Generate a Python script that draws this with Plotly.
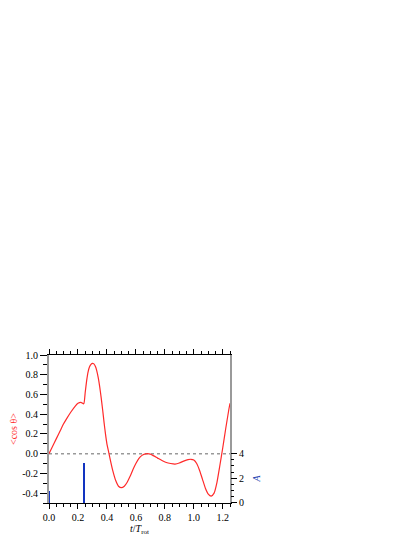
import plotly.graph_objects as go

# <cos theta> versus t/T_rot
t_vals = [0.0, 0.02, 0.05, 0.08, 0.10, 0.12, 0.15, 0.18, 0.20, 0.22, 0.24,
          0.25, 0.26, 0.27, 0.28, 0.29, 0.30, 0.31, 0.32, 0.33, 0.34, 0.35,
          0.36, 0.37, 0.38, 0.39, 0.40, 0.41, 0.42, 0.44, 0.46, 0.48, 0.50,
          0.52, 0.54, 0.56, 0.58, 0.60, 0.62, 0.64, 0.66, 0.68, 0.70, 0.72,
          0.75, 0.78, 0.81, 0.84, 0.87, 0.90, 0.93, 0.96, 0.98, 1.00, 1.02,
          1.04, 1.06, 1.08, 1.10, 1.12, 1.14, 1.16, 1.18, 1.20, 1.22, 1.24,
          1.25]
cos_vals = [0.0, 0.06, 0.15, 0.24, 0.30, 0.35, 0.42, 0.48, 0.51, 0.52, 0.505,
            0.62, 0.74, 0.83, 0.88, 0.905, 0.915, 0.91, 0.885, 0.84, 0.77, 0.68,
            0.57, 0.45, 0.32, 0.20, 0.10, 0.03, -0.04, -0.17, -0.27, -0.33, -0.345,
            -0.33, -0.29, -0.23, -0.16, -0.10, -0.05, -0.02, -0.005, 0.0, -0.005, -0.02,
            -0.045, -0.07, -0.09, -0.10, -0.105, -0.095, -0.075, -0.06, -0.057, -0.065, -0.10,
            -0.17, -0.26, -0.35, -0.41, -0.43, -0.40, -0.29, -0.12, 0.06, 0.25, 0.43,
            0.51]

# pulse amplitudes A
pulse_t = [0.0, 0.244]
pulse_a = [1.0, 3.3]

x_ticks = [0.0, 0.2, 0.4, 0.6, 0.8, 1.0, 1.2]
x_labels = ['0.0', '0.2', '0.4', '0.6', '0.8', '1.0', '1.2']
y_ticks = [-0.4, -0.2, 0.0, 0.2, 0.4, 0.6, 0.8, 1.0]
y_labels = ['-0.4', '-0.2', '0.0', '0.2', '0.4', '0.6', '0.8', '1.0']
y2_ticks = [0, 2, 4]

serif = 'Liberation Serif'

fig = go.Figure()

fig.add_trace(go.Scatter(
    x=t_vals, y=cos_vals,
    mode='lines',
    line=dict(color='#ff2a2a', width=1.2, shape='spline', smoothing=0.5),
    xaxis='x', yaxis='y',
    showlegend=False
))

fig.add_trace(go.Bar(
    x=pulse_t, y=pulse_a,
    width=0.014,
    marker=dict(color='#1234c0', line=dict(width=0)),
    xaxis='x', yaxis='y2',
    showlegend=False
))

# dotted zero line
fig.add_shape(type='line', xref='x', yref='y', x0=0, x1=1.25, y0=0, y1=0,
              line=dict(color='#999999', width=1.5, dash='dot'), layer='below')

# page body adds an 8px offset, so margins are shifted to compensate
fig.update_layout(
    width=415, height=537,
    margin=dict(l=41, r=193, t=347, b=42),
    paper_bgcolor='white', plot_bgcolor='rgba(0,0,0,0)',
    font=dict(family=serif, size=10, color='black'),
    bargap=0,
    xaxis=dict(
        range=[0, 1.25], domain=[0, 1], automargin=False,
        tickvals=x_ticks, ticktext=x_labels,
        ticks='outside', ticklen=5, tickwidth=1, tickcolor='black',
        minor=dict(dtick=0.05, tick0=0, ticks='outside', ticklen=3, tickcolor='black'),
        showline=True, linecolor='black', linewidth=1, mirror='ticks',
        showgrid=False, zeroline=False,
        tickfont=dict(family=serif, size=10),
        title=dict(text='<i>t</i>/<i>T</i><sub>rot</sub>', standoff=2,
                   font=dict(family=serif, size=10)),
    ),
    yaxis=dict(
        range=[-0.5, 1.0], domain=[0, 1], automargin=False,
        tickvals=y_ticks, ticktext=y_labels,
        ticks='outside', ticklen=7, tickwidth=1, tickcolor='black',
        minor=dict(dtick=0.1, tick0=0, ticks='outside', ticklen=4, tickcolor='black'),
        showline=True, linecolor='#9a9a9a', linewidth=2, mirror=True,
        layer='below traces',
        showgrid=False, zeroline=False,
        tickfont=dict(family=serif, size=10),
        title=dict(text='&lt;cos θ&gt;', standoff=4,
                   font=dict(family=serif, size=10, color='#ff2a2a')),
    ),
    yaxis2=dict(
        range=[0, 4], domain=[0, 1 / 3], automargin=False,
        anchor='x', side='right',
        tickvals=y2_ticks,
        ticks='outside', ticklen=6, tickwidth=1, tickcolor='black',
        minor=dict(dtick=0.5, tick0=0, ticks='outside', ticklen=3, tickcolor='black'),
        showline=False,
        showgrid=False, zeroline=False,
        tickfont=dict(family=serif, size=10),
        title=dict(text='<i>A</i>', standoff=10,
                   font=dict(family=serif, size=10, color='#2040b0')),
    ),
)

fig.write_html('out.html')
